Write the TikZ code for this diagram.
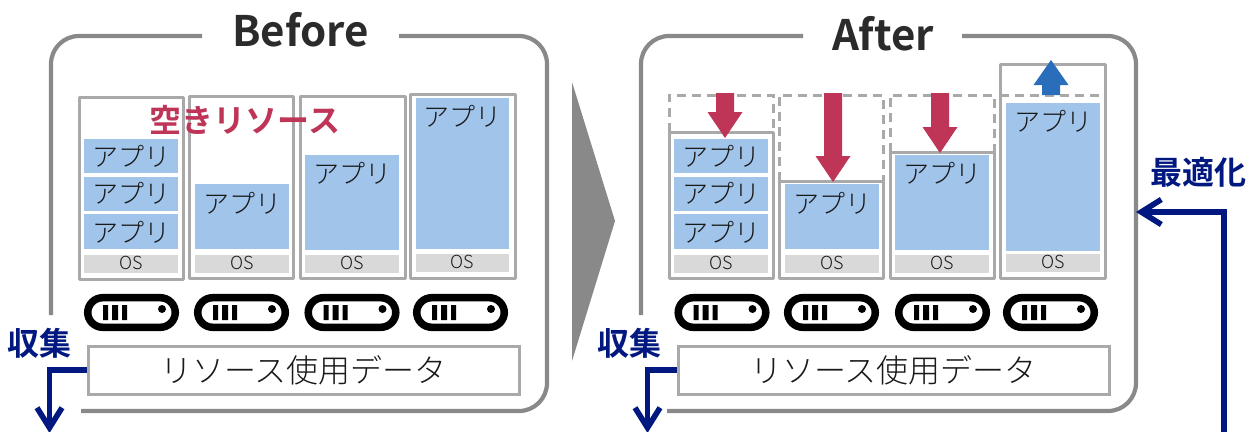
\documentclass[tikz,border=0pt]{standalone}
\usepackage{fontspec}
\setmainfont{Noto Sans CJK JP Light}[BoldFont=Noto Sans CJK JP Bold]
\usetikzlibrary{arrows.meta}
\definecolor{framegray}{HTML}{898989}
\definecolor{boxgray}{HTML}{A9A9A9}
\definecolor{appblue}{HTML}{A0C4EA}
\definecolor{osgray}{HTML}{D9D9D9}
\definecolor{navyc}{HTML}{00187F}
\definecolor{redc}{HTML}{BE3558}
\definecolor{bluec}{HTML}{2A6EBB}
\definecolor{titlec}{HTML}{2B2B2B}
\newcommand\fs[1]{\fontsize{#1}{#1}\selectfont}
\tikzset{
  framepath/.style={draw=framegray,line width=4.2pt,rounded corners=28pt},
  srv/.style={draw=boxgray,line width=3pt,line join=round},
  srvdash/.style={draw=boxgray,line width=3pt,dash pattern=on 9pt off 6pt},
  apptext/.style={inner sep=0pt,font=\fs{26},text=black!90},
  ostext/.style={inner sep=0pt,font=\fs{18},text=black!90},
  title/.style={inner sep=0pt,font=\fs{42}\bfseries,text=titlec},
  navylabel/.style={inner sep=0pt,font=\fs{32}\bfseries,text=navyc},
  databox/.style={draw=boxgray,line width=3pt,fill=white,minimum width=431pt,minimum height=48pt,inner sep=0pt,font=\fs{32},text=black!90},
  navyarrow/.style={draw=navyc,line width=5.6pt,-{Straight Barb[length=20pt,width=25pt,line width=5.6pt]}},
}
% x1 y1 x2 y2
\newcommand\srvbox[4]{\draw[srv,fill=white] (#1,#2) rectangle (#3,#4);}
% name x1 y1 x2 y2 label-y
\newcommand\app[6]{\fill[appblue] (#2,#3) rectangle (#4,#5);
  \node[apptext] (#1) at ({(#2+#4)/2},#6) {アプリ};}
% name x1 x2 y1 y2
\newcommand\osb[5]{\fill[osgray] (#2,#4) rectangle (#3,#5);
  \node[ostext] (#1) at ({(#2+#3)/2},{(#4+#5)/2-1}) {OS};}
% left x
\newcommand\pill[1]{\begin{scope}[shift={(#1,0)}]
  \draw[line width=7.5pt,rounded corners=15pt] (3.7,297.7) rectangle (91.3,327.3);
  \fill (19,305) rectangle (24,320) (28,305) rectangle (34,320) (38,305) rectangle (43,320);
  \fill (78,309) circle (4);
  \end{scope}}
% cx tail-y headbase-y tip-y colour
\newcommand\blockarrow[5]{\fill[#5] (#1-9,#2) -- (#1+9,#2) -- (#1+9,#3) -- (#1+17.5,#3) -- (#1,#4) -- (#1-17.5,#3) -- (#1-9,#3) -- cycle;}
\begin{document}
\begin{tikzpicture}[x=1pt,y=-1pt]
\useasboundingbox (0,0) rectangle (1246,431);
% frames
\draw[framepath] (202,36) -- (51,36) -- (51,315);
\draw[framepath] (399,36) -- (547,36) -- (547,411) -- (81,411);
\draw[framepath] (803,36) -- (641,36) -- (641,315);
\draw[framepath] (962,36) -- (1136,36) -- (1136,411) -- (667,411);
\node[title] (tbefore) at (300.5,30) {Before};
\node[title] (tafter) at (883,34) {After};
% arrow between
\fill[framegray] (572,82) -- (615,221) -- (572,361) -- cycle;
% Before servers
\srvbox{79}{97}{183}{279}
\srvbox{189}{96}{293}{278}
\srvbox{300}{96}{405}{278}
\srvbox{410}{94}{515}{278}
\app{ba}{84}{139}{178}{173}{156}
\app{bb}{84}{177}{178}{211}{193}
\app{bc}{84}{214}{178}{249}{232}
\app{bd}{195}{184}{289}{249}{203}
\app{be}{305}{155}{399}{250}{173}
\app{bf}{416}{98}{509}{249}{116}
\osb{bo}{84}{178}{255}{273}
\osb{bp}{195}{289}{255}{273}
\osb{bq}{305}{399}{255}{273}
\osb{br}{416}{509}{254}{272}
\node[inner sep=0pt,font=\fs{32}\bfseries,text=redc] (free) at (245,120) {空きリソース};
\pill{84}\pill{194}\pill{304.5}\pill{413}
\node[databox] (d1) at (303.5,370) {リソース使用データ};
\node[navylabel] (c1) at (39,343) {収集};
\coordinate (c1end) at (49.5,433);
\draw[navyarrow] (d1.west) -| (c1end);
% After servers
\draw[srvdash] (669,132) -- (669,95) -- (773,95) -- (773,132);
\draw[srvdash] (779,181) -- (779,95) -- (883,95) -- (883,181);
\draw[srvdash] (890,152) -- (890,95) -- (994,95) -- (994,152);
\srvbox{669}{132}{773}{278}
\srvbox{779}{181}{883}{278}
\srvbox{890}{152}{994}{278}
\srvbox{1000}{64}{1105}{278}
\draw[srvdash] (1000,95) -- (1105,95);
\app{aa}{674}{139}{768}{173}{156}
\app{ab}{674}{177}{768}{211}{193}
\app{ac}{674}{214}{768}{249}{232}
\app{ad}{785}{184}{879}{249}{203}
\app{ae}{895}{155}{989}{250}{173}
\app{af}{1006}{103}{1100}{251}{121}
\osb{ao}{674}{768}{255}{273}
\osb{ap}{785}{879}{255}{273}
\osb{aq}{895}{989}{255}{273}
\osb{ar}{1006}{1100}{254}{272}
\blockarrow{725}{93}{112}{138}{redc}
\blockarrow{833}{93}{156}{182}{redc}
\blockarrow{940}{93}{127}{153}{redc}
\blockarrow{1051}{95}{85}{60}{bluec}
\pill{674.5}\pill{784}\pill{895}\pill{1003}
\node[databox] (d2) at (893.5,370) {リソース使用データ};
\node[navylabel] (c2) at (629,343) {収集};
\coordinate (c2end) at (647.5,433);
\draw[navyarrow] (d2.west) -| (c2end);
\node[navylabel] (opt) at (1198.5,172) {最適化};
\coordinate (optstart) at (1224,434);
\coordinate (optend) at (1136,212);
\draw[navyarrow] (optstart) |- (optend);
\end{tikzpicture}
\end{document}
